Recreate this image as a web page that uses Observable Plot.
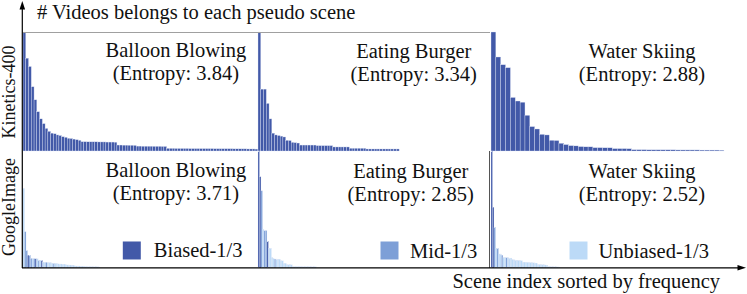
<!DOCTYPE html>
<html><head><meta charset="utf-8">
<script src="https://cdn.jsdelivr.net/npm/d3@7"></script>
<script src="https://cdn.jsdelivr.net/npm/@observablehq/plot@0.6"></script>
<style>
html,body{margin:0;padding:0;background:#fff;}
#fig{position:relative;width:747px;height:294px;overflow:hidden;font-family:"Liberation Serif","Times New Roman",serif;}
.panel{position:absolute;}
.panel svg{display:block;}
#deco{position:absolute;left:0;top:0;}
</style></head><body><div id="fig"></div>
<script>
// ---------- data ----------
const rowNames = ["Kinetics-400", "GoogleImage"];
const actions = ["Balloon Blowing", "Eating Burger", "Water Skiing"];
const entropyK400 = [3.84, 3.34, 2.88];
const entropyGoogle = [3.71, 2.85, 2.52];
const tierNames = ["Biased-1/3", "Mid-1/3", "Unbiased-1/3"];
const tierColors = ["#4259a8", "#7d9fd7", "#bcdaf7"];
const sceneCountK400 = [85, 84, 48];
const sceneCountGoogle = [156, 156, 156];

// relative frequency of each pseudo scene (sorted, as fraction of the panel height)
const k400Balloon = [1.0, 0.78, 0.71, 0.54, 0.43, 0.33, 0.27, 0.23, 0.19, 0.165, 0.15, 0.145, 0.135, 0.13, 0.12, 0.115, 0.107, 0.105, 0.1, 0.095, 0.09,
  0.078, 0.078, 0.077, 0.077, 0.077, 0.077, 0.076, 0.076, 0.076, 0.075, 0.075, 0.075, 0.074,
  0.05, 0.05, 0.049, 0.049, 0.048, 0.048, 0.047,
  0.041, 0.041, 0.04, 0.04, 0.04, 0.04, 0.039, 0.039, 0.039, 0.038, 0.038,
  0.022, 0.022, 0.022, 0.021, 0.021, 0.021, 0.021, 0.021, 0.02, 0.02, 0.02, 0.02, 0.02, 0.02, 0.02, 0.02, 0.02,
  0.019, 0.019, 0.019, 0.019, 0.019, 0.019, 0.019, 0.018, 0.018, 0.018, 0.018, 0.018, 0.017, 0.017, 0.017, 0.016];
const k400Burger = [1.0, 0.52, 0.52, 0.40, 0.27, 0.15, 0.135, 0.13, 0.125, 0.118, 0.09, 0.088, 0.073, 0.07, 0.067,
  0.05, 0.05, 0.05, 0.05, 0.05, 0.05,
  0.045, 0.045, 0.045, 0.045, 0.045, 0.045,
  0.034, 0.034, 0.034, 0.034, 0.034, 0.034,
  0.023, 0.023, 0.023, 0.023, 0.023, 0.023,
  0.017, 0.017, 0.017, 0.017, 0.017, 0.017, 0.017, 0.017, 0.017, 0.017, 0.017, 0.017];
const k400Skiing = [1.0, 0.79, 0.725, 0.70, 0.45, 0.42, 0.41, 0.30, 0.205, 0.185, 0.14, 0.135, 0.09, 0.088, 0.065, 0.054, 0.045, 0.043, 0.037, 0.035,
  0.035, 0.028, 0.028, 0.027, 0.027, 0.02, 0.02, 0.02, 0.019,
  0.011, 0.011, 0.011, 0.01, 0.01, 0.01, 0.01, 0.01, 0.01, 0.009, 0.009, 0.009, 0.009, 0.009, 0.008, 0.008, 0.008, 0.008, 0.007];

const googleBalloon = [0.68, 0.31, 0.15, 0.11, 0.11, 0.082, 0.08, 0.08, 0.079, 0.078, 0.068, 0.067, 0.066, 0.05, 0.048, 0.048, 0.047, 0.046, 0.045,
  0.041, 0.04, 0.039, 0.038, 0.035, 0.034, 0.034, 0.033, 0.033, 0.027, 0.026, 0.026, 0.025, 0.025, 0.024,
  0.018, 0.017, 0.017, 0.017, 0.016, 0.016, 0.015, 0.012, 0.011, 0.011, 0.011, 0.011, 0.01, 0.01, 0.01, 0.01, 0.009, 0.009];
const googleBalloonTier = ["U","M","M","B","M","M","U","M","B","U","M","U","B","U","U","M","U","U","U","U","M","U","U",
  "U","U","U","U","U","U","U","U","U","U","U","U","U","U","U","U","U","U","U","U","U","U","U","U","U","U","U","U"];
const googleBurger = [1.0, 0.78, 0.66, 0.33, 0.32, 0.32, 0.23, 0.17, 0.17, 0.09, 0.078, 0.077, 0.077, 0.076, 0.075, 0.062, 0.061, 0.04, 0.04,
  0.029, 0.028, 0.028, 0.027, 0.012, 0.012, 0.012, 0.012, 0.012, 0.012, 0.011, 0.011, 0.011, 0.011, 0.011, 0.011, 0.01, 0.01, 0.01, 0.01];
const googleBurgerTier = ["B","B","M","U","M","M","B","U","U","U","U","M","U","U","U","U","U","U","U","U","U","U","U",
  "U","U","U","U","U","U","U","U","U","U","U","U","U","U","U","U"];
const googleSkiing = [1.0, 0.52, 0.35, 0.17, 0.17, 0.12, 0.12, 0.11, 0.09, 0.09, 0.09, 0.088, 0.085, 0.085,
  0.07, 0.07, 0.068, 0.066, 0.065, 0.064, 0.062, 0.05, 0.05, 0.049, 0.048, 0.047, 0.046, 0.045, 0.044, 0.043, 0.042,
  0.03, 0.03, 0.029, 0.028, 0.027, 0.026, 0.025, 0.012, 0.012, 0.011, 0.011, 0.01, 0.01, 0.009, 0.009];
const googleSkiingTier = ["B","B","M","U","M","U","U","M","U","U","M","U","U","U",
  "U","U","U","U","U","U","U","U","U","U","U","U","U","U","U","U","U","U","U","U","U","U","U","U","U","U","U","U","U","U","U","U"];

// ---------- layout ----------
const FONT = "Liberation Serif, Times New Roman, serif";
const colLeft = [22.7, 257.5, 491], colWidth = [234.8, 232.5, 233];
const rowTop = [32, 151], rowHeight = [119, 117];
const labelDx = [[35, 39, 34], [35, 36, 34]];
const labelBase = [[25, 48], [26, 49]];
const legendSq = [108.3, 131, 87], legendTx = [130.3, 151.5, 107];
const tierCode = {B: tierNames[0], M: tierNames[1], U: tierNames[2]};

const fig = document.getElementById("fig");
const k400 = [k400Balloon, k400Burger, k400Skiing];
const goog = [googleBalloon, googleBurger, googleSkiing];
const googTier = [googleBalloonTier, googleBurgerTier, googleSkiingTier];

for (let r = 0; r < 2; r++) {
  for (let c = 0; c < 3; c++) {
    const vals = r === 0 ? k400[c] : goog[c];
    const n = r === 0 ? sceneCountK400[c] : sceneCountGoogle[c];
    const data = vals.map((v, i) => ({i, v, tier: r === 0 ? tierNames[0] : tierCode[googTier[c][i]]}));
    const ent = r === 0 ? entropyK400[c] : entropyGoogle[c];
    const marks = [
      Plot.barY(data, {x: "i", y: "v", fill: "tier", stroke: "#dfe6f5", strokeWidth: r === 0 ? 0.35 : 0.25}),
      Plot.text([actions[c]], {frameAnchor: "top", dx: labelDx[r][c], dy: labelBase[r][0], lineAnchor: "bottom", fontSize: 20.5, fill: "#111"}),
      Plot.text([`(Entropy: ${ent.toFixed(2)})`], {frameAnchor: "top", dx: labelDx[r][c], dy: labelBase[r][1], lineAnchor: "bottom", fontSize: 20.5, fill: "#111"})
    ];
    if (r === 1) {
      marks.push(Plot.dot([tierNames[c]], {frameAnchor: "bottom-left", dx: legendSq[c], dy: -18, symbol: "square", r: 10.155, fill: tierColors[c], stroke: null}));
      marks.push(Plot.text([tierNames[c]], {frameAnchor: "bottom-left", dx: legendTx[c], dy: -11, textAnchor: "start", lineAnchor: "bottom", fontSize: 20.5, fill: "#111"}));
    }
    const chart = Plot.plot({
      width: colWidth[c], height: rowHeight[r], margin: 0,
      style: {fontFamily: FONT, background: "transparent", overflow: "visible"},
      x: {type: "band", domain: d3.range(n), padding: 0, round: false, axis: null},
      y: {domain: [0, 1], axis: null},
      color: {domain: tierNames, range: tierColors},
      marks
    });
    const div = document.createElement("div");
    div.className = "panel";
    div.style.left = colLeft[c] + "px";
    div.style.top = rowTop[r] + "px";
    div.appendChild(chart);
    fig.appendChild(div);
  }
}

// ---------- decoration: axes arrows, frame lines, titles ----------
const ns = "http://www.w3.org/2000/svg";
const svg = document.createElementNS(ns, "svg");
svg.setAttribute("id", "deco");
svg.setAttribute("width", 747);
svg.setAttribute("height", 294);
svg.innerHTML = `
  <line x1="22.7" y1="32.5" x2="490" y2="32.5" stroke="#a0a0a0" stroke-width="1"/>
  <line x1="489.5" y1="151" x2="489.5" y2="268" stroke="#555" stroke-width="1"/>
  <line x1="22.3" y1="268" x2="22.3" y2="8" stroke="#000" stroke-width="1.2"/>
  <polygon points="22.3,1 19.5,9.5 25.1,9.5" fill="#000"/>
  <line x1="22" y1="267.8" x2="739" y2="267.8" stroke="#000" stroke-width="1.2"/>
  <polygon points="746,267.8 737.5,265 737.5,270.6" fill="#000"/>
  <text x="37" y="18.5" font-family="${FONT}" font-size="20.5" fill="#111">${"# Videos belongs to each pseudo scene"}</text>
  <text x="720" y="288" text-anchor="end" font-family="${FONT}" font-size="20.5" fill="#111">Scene index sorted by frequency</text>
  <text transform="translate(15,92) rotate(-90)" text-anchor="middle" font-family="${FONT}" font-size="18" fill="#111">${rowNames[0]}</text>
  <text transform="translate(15,207) rotate(-90)" text-anchor="middle" font-family="${FONT}" font-size="18" fill="#111">${rowNames[1]}</text>
`;
fig.appendChild(svg);
</script>
</body></html>
